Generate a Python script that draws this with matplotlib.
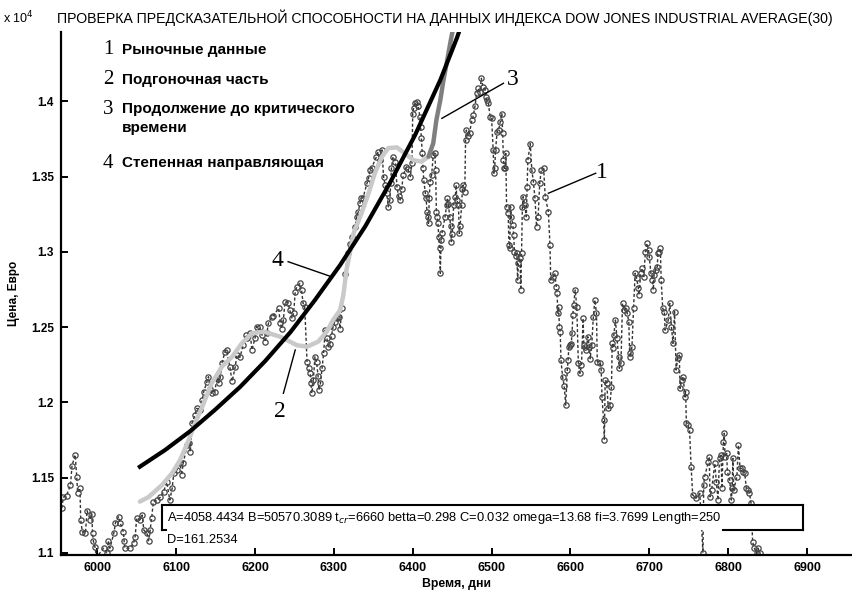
import matplotlib
matplotlib.use("Agg")
import matplotlib.pyplot as plt
import numpy as np
from matplotlib.patches import Rectangle
from matplotlib.lines import Line2D

plt.rcParams["font.family"] = ["Liberation Sans", "DejaVu Sans"]

# market data (day, index value)
days = [5955, 5957, 5961, 5966, 5968, 5972, 5974, 5975, 5978, 5979, 5981, 5985, 5987, 5991,
        5993, 5994, 5995, 5997, 5999, 6008, 6012, 6014, 6016, 6021, 6023, 6027, 6029, 6033,
        6034, 6035, 6042, 6046, 6048, 6050, 6054, 6057, 6059, 6063, 6065, 6067, 6069, 6071,
        6076, 6080, 6084, 6088, 6092, 6095, 6097, 6101, 6105, 6107, 6109, 6114, 6116, 6118,
        6120, 6124, 6126, 6130, 6133, 6135, 6139, 6141, 6143, 6145, 6149, 6152, 6154, 6156,
        6158, 6162, 6164, 6168, 6171, 6175, 6177, 6181, 6185, 6188, 6190, 6194, 6196, 6200,
        6202, 6206, 6209, 6213, 6215, 6217, 6221, 6223, 6230, 6232, 6234, 6236, 6238, 6242,
        6244, 6247, 6249, 6251, 6253, 6257, 6259, 6261, 6263, 6266, 6268, 6270, 6271, 6272,
        6274, 6276, 6278, 6280, 6281, 6283, 6285, 6287, 6289, 6291, 6293, 6295, 6297, 6299,
        6301, 6304, 6306, 6308, 6310, 6314, 6318, 6320, 6323, 6327, 6329, 6331, 6333, 6335,
        6337, 6342, 6344, 6346, 6348, 6354, 6356, 6358, 6361, 6363, 6365, 6367, 6369, 6371,
        6372, 6373, 6375, 6378, 6380, 6382, 6384, 6386, 6388, 6392, 6394, 6397, 6399, 6400,
        6401, 6403, 6405, 6407, 6409, 6410, 6411, 6412, 6413, 6414, 6416, 6417, 6418, 6419,
        6420, 6421, 6422, 6424, 6426, 6428, 6429, 6430, 6431, 6432, 6433, 6434, 6435, 6436,
        6437, 6441, 6443, 6444, 6445, 6447, 6448, 6449, 6450, 6452, 6454, 6455, 6456, 6458,
        6459, 6460, 6462, 6463, 6464, 6466, 6467, 6468, 6470, 6472, 6475, 6477, 6479, 6481,
        6483, 6485, 6487, 6489, 6492, 6493, 6494, 6496, 6498, 6500, 6502, 6503, 6504, 6505,
        6507, 6509, 6511, 6513, 6514, 6515, 6516, 6517, 6518, 6519, 6521, 6522, 6523, 6524,
        6525, 6527, 6528, 6529, 6531, 6532, 6533, 6534, 6536, 6537, 6538, 6539, 6540, 6542,
        6544, 6545, 6546, 6549, 6551, 6553, 6555, 6557, 6559, 6561, 6563, 6566, 6568, 6572,
        6574, 6575, 6578, 6580, 6582, 6583, 6584, 6585, 6586, 6587, 6588, 6590, 6592, 6594,
        6596, 6597, 6598, 6599, 6601, 6602, 6603, 6604, 6606, 6608, 6610, 6612, 6614, 6616,
        6617, 6618, 6620, 6622, 6624, 6625, 6627, 6629, 6631, 6633, 6634, 6638, 6639, 6640,
        6642, 6643, 6644, 6646, 6648, 6650, 6652, 6653, 6654, 6655, 6657, 6659, 6661, 6662,
        6664, 6666, 6668, 6670, 6672, 6674, 6675, 6676, 6678, 6680, 6682, 6684, 6686, 6687,
        6689, 6691, 6693, 6695, 6697, 6699, 6700, 6702, 6704, 6705, 6706, 6708, 6710, 6711,
        6712, 6714, 6715, 6717, 6719, 6720, 6724, 6726, 6728, 6730, 6732, 6734, 6736, 6738,
        6739, 6741, 6743, 6745, 6746, 6747, 6749, 6751, 6753, 6755, 6759, 6764, 6768, 6769,
        6770, 6775, 6776, 6777, 6779, 6783, 6785, 6787, 6789, 6791, 6792, 6794, 6795, 6796,
        6798, 6799, 6802, 6804, 6805, 6806, 6807, 6811, 6813, 6815, 6817, 6819, 6821, 6823,
        6825, 6827, 6829, 6831, 6833, 6836, 6838, 6840]
prices = [11297, 11370, 11380, 11450, 11580, 11650, 11505, 11400, 11430, 11220, 11140, 11130, 11280, 11220,
          11260, 11130, 11080, 11040, 10970, 11030, 11000, 11080, 11030, 11130, 11197, 11240, 11200, 11140,
          11080, 11030, 11030, 11065, 11107, 11230, 11220, 11250, 11150, 11130, 11080, 11150, 11230, 11340,
          11350, 11370, 11405, 11470, 11350, 11430, 11528, 11550, 11596, 11517, 11596, 11716, 11727, 11670,
          11860, 11916, 11960, 11950, 12015, 12070, 12137, 12170, 12090, 12060, 12070, 12170, 12130, 12170,
          12260, 12336, 12348, 12237, 12140, 12237, 12314, 12300, 12380, 12447, 12425, 12459, 12348, 12425,
          12503, 12500, 12447, 12403, 12460, 12525, 12569, 12575, 12625, 12525, 12490, 12547, 12669, 12660,
          12614, 12558, 12592, 12735, 12769, 12791, 12747, 12658, 12636, 12270, 12226, 12193, 12126, 12060,
          12150, 12303, 12270, 12175, 12082, 12126, 12226, 12326, 12480, 12430, 12370, 12390, 12440, 12503,
          12536, 12558, 12570, 12490, 12625, 12850, 12990, 13050, 13100, 13168, 13234, 13267, 13323, 13356,
          13360, 13456, 13490, 13545, 13560, 13633, 13666, 13610, 13678, 13500, 13445, 13390, 13300, 13345,
          13456, 13555, 13633, 13600, 13434, 13370, 13345, 13420, 13510, 13566, 13550, 13500, 13590, 13920,
          13955, 13988, 13999, 13970, 13899, 13833, 13755, 13656, 13560, 13477, 13390, 13360, 13267, 13234,
          13190, 13360, 13467, 13512, 13644, 13656, 13545, 13267, 13234, 13190, 13100, 13024, 12858, 13080,
          13123, 13234, 13310, 13360, 13320, 13234, 13170, 13068, 13120, 13312, 13367, 13445, 13345, 13310,
          13123, 13170, 13310, 13420, 13445, 13400, 13743, 13810, 13770, 13790, 13877, 13910, 13970, 14055,
          14088, 14066, 14154, 14099, 14077, 14033, 14010, 13988, 13900, 13888, 13677, 13523, 13560, 13677,
          13799, 13810, 13865, 13920, 13790, 13610, 13560, 13555, 13655, 13300, 13256, 13046, 13023, 13300,
          13234, 13179, 13112, 13001, 12970, 12990, 12813, 12924, 12960, 12747, 12990, 13300, 13367, 13312,
          13234, 13434, 13610, 13720, 13544, 13467, 13356, 13168, 13234, 13456, 13545, 13555, 13367, 13267,
          13046, 12813, 12835, 12858, 12769, 12725, 12592, 12636, 12503, 12469, 12281, 12170, 12110, 11982,
          12215, 12281, 12370, 12381, 12390, 12459, 12580, 12647, 12747, 12636, 12259, 12193, 12248, 12558,
          12381, 12370, 12350, 12436, 12370, 12290, 12381, 12569, 12680, 12592, 12270, 12259, 12215, 12037,
          11882, 11750, 12148, 12126, 11960, 11982, 12104, 12392, 12359, 12447, 12547, 12425, 12303, 12226,
          12259, 12658, 12614, 12625, 12592, 12536, 12326, 12303, 12370, 12625, 12858, 12825, 12760, 12714,
          12858, 12891, 12836, 13001, 13057, 13012, 12967, 12858, 12814, 12747, 12847, 12880, 12902, 12990,
          13001, 13024, 12814, 12625, 12603, 12480, 12547, 12658, 12503, 12392, 12603, 12215, 12292, 12314,
          12093, 12148, 12170, 12037, 12071, 11860, 11849, 11816, 11572, 11384, 11362, 11395, 11000, 11450,
          11505, 11605, 11638, 11372, 11417, 11594, 11470, 11350, 11627, 11649, 11428, 11738, 11794, 11638,
          11660, 11539, 11483, 11350, 11428, 11627, 11417, 11505, 11716, 11561, 11561, 11539, 11528, 11428,
          11417, 11400, 11328, 11073, 11033, 10996, 11030, 10996]

# fitted log-periodic part (2) and its continuation to critical time (3)
fit_days = [6054, 6065, 6082, 6095, 6105, 6116, 6124, 6133, 6145, 6158, 6171, 6183, 6196, 6211,
            6232, 6253, 6266, 6280, 6291, 6299, 6308, 6312, 6316, 6321, 6325, 6335, 6344, 6352,
            6361, 6369, 6380, 6390, 6401, 6411, 6420]
fit_prices = [11340, 11370, 11450, 11530, 11616, 11750, 11860, 11970, 12126, 12237, 12303, 12390, 12459, 12470,
              12436, 12380, 12370, 12403, 12470, 12547, 12614, 12713, 12880, 13013, 13124, 13256, 13390, 13523,
              13633, 13690, 13695, 13655, 13610, 13600, 13633]
cont_days = [6420, 6426, 6430, 6435, 6439, 6443, 6448, 6451]
cont_prices = [13633, 13722, 13877, 14010, 14143, 14254, 14400, 14480]

# power-law guide (4)
guide_days = [6054, 6086, 6118, 6149, 6181, 6213, 6245, 6276, 6308, 6340, 6371, 6403, 6435, 6456, 6466]
guide_prices = [11572, 11683, 11809, 11949, 12102, 12275, 12467, 12680, 12913, 13172, 13458, 13777, 14143,
                14422, 14575]

x_ticks = [6000, 6100, 6200, 6300, 6400, 6500, 6600, 6700, 6800, 6900]
y_ticks = [1.1, 1.15, 1.2, 1.25, 1.3, 1.35, 1.4]
y_tick_labels = ["1.1", "1.15", "1.2", "1.25", "1.3", "1.35", "1.4"]

legend_items = ["Рыночные данные", "Подгоночная часть", "Продолжение до критического\nвремени",
                "Степенная направляющая"]

scale = 1e4

fig = plt.figure(figsize=(8.52, 5.91), dpi=100)
ax = fig.add_axes([61 / 852, 1 - 555 / 591, 791 / 852, 523 / 591])

ax.plot(days, np.array(prices) / scale, linestyle=(0, (2.2, 1.6)), color="#333333", linewidth=1.0,
        marker="o", markersize=3.8, markerfacecolor="none", markeredgecolor="#444444",
        markeredgewidth=0.9, zorder=2)
ax.plot(fit_days, np.array(fit_prices) / scale, color="#c9c9c9", linewidth=3.2,
        solid_capstyle="round", solid_joinstyle="round", zorder=3)
ax.plot(cont_days, np.array(cont_prices) / scale, color="#7f7f7f", linewidth=3.2,
        solid_capstyle="round", solid_joinstyle="round", zorder=3)
ax.plot(guide_days, np.array(guide_prices) / scale, color="black", linewidth=3.0,
        solid_joinstyle="round", zorder=4)

ax.set_xlim(5954, 6957)
ax.set_ylim(1.0985, 1.4462)
ax.set_xticks(x_ticks)
ax.set_xticklabels([str(t) for t in x_ticks], fontsize=9, fontweight="bold")
ax.set_yticks(y_ticks)
ax.set_yticklabels(y_tick_labels, fontsize=8.5, fontweight="bold")
ax.tick_params(direction="in", length=5, width=1.4, pad=5)
for side in ["top", "right"]:
    ax.spines[side].set_visible(False)
for side in ["left", "bottom"]:
    ax.spines[side].set_linewidth(1.6)

ax.set_xlabel("Время, дни", fontsize=8.8, fontweight="bold", labelpad=3)
ax.set_ylabel("Цена, Евро", fontsize=8.5, fontweight="bold", labelpad=8)

fig.text(3 / 852, 1 - 18 / 591, "x 10$^4$", fontsize=9, va="center", ha="left")
fig.text(57 / 852, 1 - 18 / 591,
         "ПРОВЕРКА ПРЕДСКАЗАТЕЛЬНОЙ СПОСОБНОСТИ НА ДАННЫХ ИНДЕКСА DOW JONES INDUSTRIAL AVERAGE(30)",
         fontsize=10.2, va="center", ha="left")

# legend written as numbered list
legend_y = [50, 80, 109, 163]
for i, (label, py) in enumerate(zip(legend_items, legend_y)):
    fig.text(108 / 852, 1 - py / 591, str(i + 1), fontsize=15, family="Liberation Serif",
             va="center", ha="center")
    fig.text(122 / 852, 1 - (py - 7) / 591, label, fontsize=11, fontweight="bold",
             va="top", ha="left", linespacing=1.45)

# numbered callouts
callouts = [("1", (6572, 1.339), (6632, 1.3523), (6640, 1.3525)),
            ("3", (6437, 1.3888), (6515, 1.4121), (6527, 1.4143)),
            ("4", (6297, 1.2835), (6242, 1.2935), (6228, 1.2946)),
            ("2", (6251, 1.2348), (6236, 1.206), (6232, 1.1938))]
for num, start, end, pos in callouts:
    ax.plot([start[0], end[0]], [start[1], end[1]], color="black", linewidth=1.0, zorder=5)
    ax.text(pos[0], pos[1], num, fontsize=17, family="Liberation Serif", ha="center",
            va="center", zorder=5)

# parameter box
def ax_frac(px, py):
    return (px - 61) / 791, (555 - py) / 523

x0, y0 = ax_frac(162, 530)
x1, y1 = ax_frac(803, 505)
ax.add_patch(Rectangle((x0, y0), x1 - x0, y1 - y0, transform=ax.transAxes,
                       facecolor="white", edgecolor="none", zorder=6))
xm, _ = ax_frac(723, 530)
xs, _ = ax_frac(166, 530)
for xs_, ys_ in [([x0, x1], [y1, y1]), ([x1, x1], [y1, y0]), ([xm, x1], [y0, y0]),
                 ([x0, x0], [y1, y0]), ([x0, xs], [y0, y0])]:
    ax.add_line(Line2D(xs_, ys_, transform=ax.transAxes, color="black", linewidth=1.5, zorder=7))

tx, ty = ax_frac(167, 518)
ax.text(tx, ty, "A=4058.4434 B=50570.3089 t$_{cr}$=6660 betta=0.298 C=0.032 omega=13.68 "
        "fi=3.7699 Length=250", transform=ax.transAxes, fontsize=9.3, va="center", ha="left",
        zorder=8)
tx, ty = ax_frac(167, 540)
ax.text(tx, ty, "D=161.2534", transform=ax.transAxes, fontsize=9.3, va="center", ha="left",
        zorder=8)

fig.savefig("out.png", dpi=100)
